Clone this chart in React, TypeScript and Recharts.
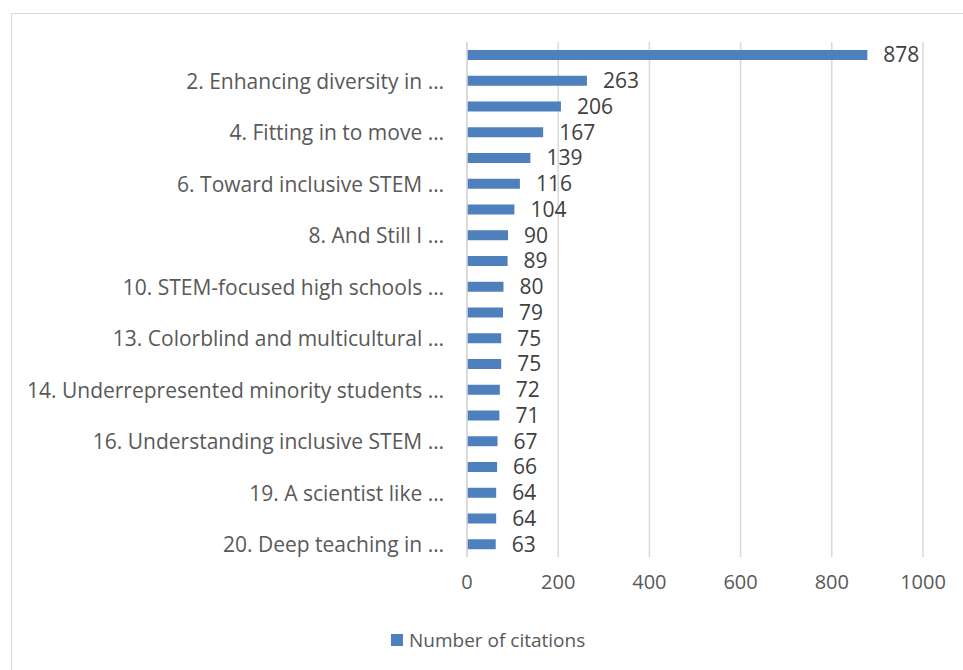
import React from "react";
import { BarChart, Bar, XAxis, YAxis, CartesianGrid, Legend, LabelList } from "recharts";

// rows top to bottom; only every second label is printed on the axis
const titles = [
  "1. Hidden title …",
  "2. Enhancing diversity in …",
  "3. Hidden title …",
  "4. Fitting in to move …",
  "5. Hidden title …",
  "6. Toward inclusive STEM …",
  "7. Hidden title …",
  "8. And Still I …",
  "9. Hidden title …",
  "10. STEM-focused high schools …",
  "11. Hidden title …",
  "13. Colorblind and multicultural …",
  "12. Hidden title …",
  "14. Underrepresented minority students …",
  "15. Hidden title …",
  "16. Understanding inclusive STEM …",
  "17. Hidden title …",
  "19. A scientist like …",
  "18. Hidden title …",
  "20. Deep teaching in …",
];
const citations = [878, 263, 206, 167, 139, 116, 104, 90, 89, 80, 79, 75, 75, 72, 71, 67, 66, 64, 64, 63];
const xTicks = [0, 200, 400, 600, 800, 1000];

const data = titles.map((name, i) => ({ name, citations: citations[i] }));

const FONT = "'Open Sans', Lato, sans-serif";
const GRID = "#d9d9d9";
const BLUE = "#4e80bd";

function CategoryTick(props: any) {
  const { x, y, payload, index } = props;
  if (index % 2 === 0) return null;
  return (
    <text
      x={x}
      y={y}
      textAnchor="end"
      dominantBaseline="central"
      fill="#595959"
      fontSize={21}
      fontFamily={FONT}
    >
      {payload.value}
    </text>
  );
}

function LegendBox() {
  return (
    <div style={{ display: "flex", alignItems: "center", height: 24, fontFamily: FONT, fontSize: 19, color: "#595959" }}>
      <span style={{ display: "inline-block", width: 12, height: 12, background: BLUE, marginRight: 6 }} />
      Number of citations
    </div>
  );
}

export default function App() {
  return (
    <div style={{ position: "absolute", left: 0, top: 0, width: 963, height: 670, overflow: "hidden", background: "#fff" }}>
      <div
        style={{
          position: "absolute",
          left: 11,
          top: 13,
          width: 1000,
          height: 700,
          borderLeft: `1.5px solid ${GRID}`,
          borderTop: `1.5px solid ${GRID}`,
        }}
      />
      <div style={{ position: "absolute", left: 0, top: 0 }}>
        <BarChart
          width={963}
          height={670}
          data={data}
          layout="vertical"
          margin={{ top: 42, right: 40, left: 0, bottom: 49 }}
        >
          <CartesianGrid horizontal={false} stroke={GRID} strokeWidth={1.5} />
          <XAxis
            type="number"
            domain={[0, 1000]}
            ticks={xTicks}
            height={40}
            axisLine={false}
            tickLine={false}
            tickSize={0}
            tickMargin={18}
            tick={{ fill: "#595959", fontSize: 20, fontFamily: FONT }}
          />
          <YAxis
            type="category"
            dataKey="name"
            width={467}
            interval={0}
            axisLine={{ stroke: GRID, strokeWidth: 1.5 }}
            tickLine={false}
            tickSize={0}
            tickMargin={23}
            tick={<CategoryTick />}
          />
          <Legend
            verticalAlign="bottom"
            content={<LegendBox />}
            wrapperStyle={{ top: 628, bottom: "auto", left: 391, width: 300 }}
          />
          <Bar dataKey="citations" name="Number of citations" fill={BLUE} barSize={10} isAnimationActive={false}>
            <LabelList dataKey="citations" position="right" offset={16} fill="#404040" fontSize={21} fontFamily={FONT} />
          </Bar>
        </BarChart>
      </div>
    </div>
  );
}
